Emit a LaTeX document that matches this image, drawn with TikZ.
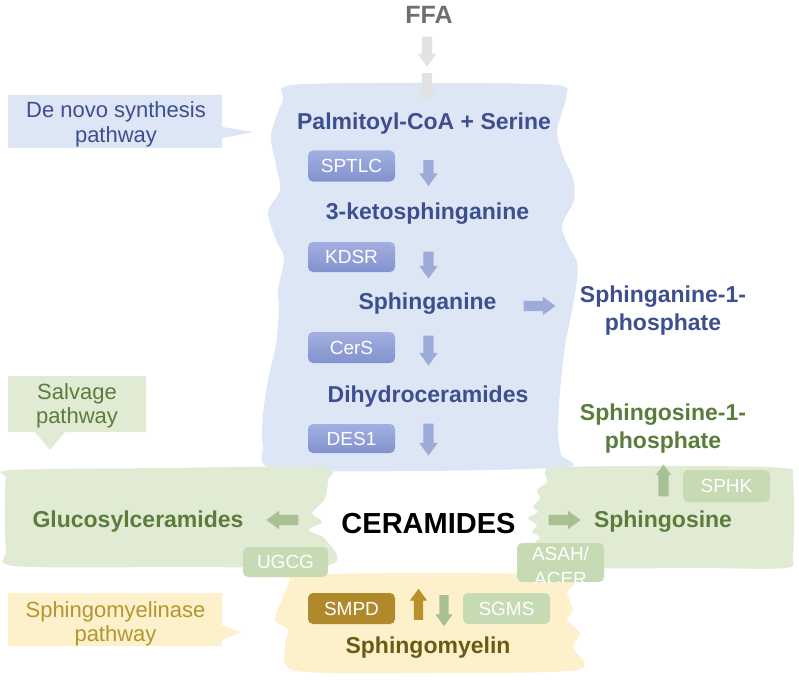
\documentclass[tikz,border=0pt]{standalone}
\usepackage{fontspec}
\setmainfont{Liberation Sans}
\usetikzlibrary{shapes.arrows}
\definecolor{dblue}{HTML}{3D4F8F}
\definecolor{bgblue}{HTML}{DDE6F5}
\definecolor{boxblueT}{HTML}{A2AFE0}
\definecolor{boxblueB}{HTML}{8392CF}
\definecolor{arrblue}{HTML}{9DABDA}
\definecolor{dgreen}{HTML}{5A7D3C}
\definecolor{bggreen}{HTML}{E1EBD4}
\definecolor{boxgreen}{HTML}{C6DAB3}
\definecolor{arrgreen}{HTML}{A9C093}
\definecolor{bgyellow}{HTML}{FDF1CC}
\definecolor{boxgold}{HTML}{B08A2A}
\definecolor{arrgold}{HTML}{B8902C}
\definecolor{dolive}{HTML}{6B5A12}
\definecolor{callgold}{HTML}{B59530}
\definecolor{ffagray}{HTML}{6E6E6E}
\definecolor{arrgray}{HTML}{E2E2E2}
\begin{document}
\begin{tikzpicture}[x=1pt,y=-1pt,
  mol/.style={font=\bfseries\fontsize{23}{28}\selectfont, inner sep=0pt},
  calltxt/.style={font=\fontsize{22}{24.5}\selectfont, align=center, inner sep=0pt},
  enz/.style={rounded corners=5pt, minimum width=87pt, minimum height=31pt, inner sep=0pt, text=white, font=\fontsize{19}{22}\selectfont},
  enzb/.style={enz, top color=boxblueT, bottom color=boxblueB},
  enzg/.style={enz, fill=boxgreen},
  barrow/.style={single arrow, draw=none, inner sep=5pt, single arrow head extend=4pt, single arrow tip angle=72, minimum height=#1},
  wavy/.style={smooth cycle, tension=0.5}
]
\useasboundingbox (0,0) rectangle (799,679);
\fill[white] (0,0) rectangle (799,679);

% ---- background regions ----
\fill[bgblue] plot[wavy] coordinates {(292,85) (430,83) (556,85)
  (566,96) (562,112) (557,133) (564,158) (573,178) (574,200) (562,225) (568,245) (577,262) (577,280) (572,310) (566,340) (562,370) (559,405) (558,435) (561,455) (566,467)
  (420,471) (275,469)
  (263,445) (263,415) (268,380) (276,345) (279,310) (278,290) (284,258) (276,240) (268,212) (280,190) (276,165) (271,135) (283,100)};

\fill[bggreen] plot[wavy] coordinates {(12,470) (170,468) (322,467) (328,480) (324,500) (312,513) (322,522) (309,530) (326,540) (328,565) (170,567) (15,566) (6,550) (5,500) (6,478)};

\fill[bggreen] plot[wavy] coordinates {(545,472) (560,467) (680,466) (783,468) (793,480) (793,555) (785,568) (700,568) (560,568) (535,560) (535,543) (540,537) (532,532) (537,525) (528,518) (538,512) (533,507) (540,498) (537,490) (547,482)};

\fill[bgyellow] plot[wavy] coordinates {(292,575) (430,573) (568,576) (567,593) (573,610) (567,620) (580,633) (573,647) (577,670) (430,673) (297,671) (285,647) (288,630) (275,620) (283,597) (290,580)};

% ---- callouts ----
\fill[bgblue] (8,95) -- (222,95) -- (222,127) -- (253,132) -- (222,138) -- (222,148) -- (8,148) -- cycle;
\node[calltxt, text=dblue] (denovo) at (116,124.5) {De novo synthesis\\pathway};

\fill[bggreen] (8,376) -- (146,376) -- (146,432) -- (65,432) -- (50,450) -- (35,432) -- (8,432) -- cycle;
\node[calltxt, text=dgreen] (salvage) at (77,406) {Salvage\\pathway};

\fill[bgyellow] (8,593) -- (222,593) -- (222,625) -- (241,632) -- (222,640) -- (222,646) -- (8,646) -- cycle;
\node[calltxt, text=callgold] (smase) at (115.5,624) {Sphingomyelinase\\pathway};

% ---- FFA ----
\node[font=\bfseries\fontsize{25}{28}\selectfont, text=ffagray, inner sep=0pt, anchor=base] (ffa) at (429,24) {FFA};
\node[barrow=30, fill=arrgray, rotate=-90] (f1) at (427,48) {};
\node[barrow=29, fill=arrgray, rotate=-90] (f2) at (427,84) {};

% ---- de novo pathway ----
\node[mol, text=dblue, anchor=base] (palm) at (424,130) {Palmitoyl-CoA + Serine};
\node[enzb] (sptlc) at (351.5,166) {SPTLC};
\node[barrow=26, fill=arrblue, rotate=-90] (a1) at (428.5,169.5) {};
\node[mol, text=dblue, anchor=base] (keto) at (427.5,219) {3-ketosphinganine};
\node[enzb, minimum height=30pt] (kdsr) at (351.5,257) {KDSR};
\node[barrow=27, fill=arrblue, rotate=-90] (a2) at (428.5,261.5) {};
\node[mol, text=dblue, anchor=base] (sphinganine) at (427.5,309) {Sphinganine};
\node[barrow=32, fill=arrblue] (a3) at (536,306) {};
\node[mol, text=dblue, align=center] (sa1p) at (663,311) {Sphinganine-1-\\phosphate};
\node[enzb] (cers) at (351.5,347.5) {CerS};
\node[barrow=30, fill=arrblue, rotate=-90] (a4) at (428.5,347) {};
\node[mol, text=dblue, anchor=base] (dihydro) at (428,402) {Dihydroceramides};
\node[enzb, minimum height=29pt] (des1) at (351.5,438.5) {DES1};
\node[barrow=32, fill=arrblue, rotate=-90] (a5) at (428.5,436) {};
\node[mol, text=dgreen, align=center] (so1p) at (663,429) {Sphingosine-1-\\phosphate};

% ---- ceramide level ----
\node[mol, text=dgreen, anchor=base] (gluc) at (138,527) {Glucosylceramides};
\node[barrow=32, fill=arrgreen, rotate=180] (a6) at (286,520) {};
\node[enzg, minimum width=85pt, minimum height=30pt] (ugcg) at (285.5,562) {UGCG};
\node[font=\bfseries\fontsize{29}{32}\selectfont, text=black, inner sep=0pt, anchor=base] (cer) at (428.5,533) {CERAMIDES};
\node[barrow=32, fill=arrgreen] (a7) at (561,520) {};
\node[mol, text=dgreen, anchor=base] (sphingosine) at (663,527) {Sphingosine};
\node[barrow=32, fill=arrgreen, rotate=90, inner sep=5pt, single arrow head extend=2.5pt] (a8) at (663.5,484) {};
\node[enzg, minimum height=32pt] (sphk) at (726.5,486) {SPHK};
\node[enzg, minimum height=39pt] (asah) at (560.5,562.5) {};
\begin{scope}
  \clip (asah.south west) rectangle (asah.north east);
  \node[text=white, font=\fontsize{19}{25}\selectfont, align=center, inner sep=0pt] (asahtxt) at (560.5,566) {ASAH/\\ACER};
\end{scope}

% ---- sphingomyelin ----
\node[enz, fill=boxgold] (smpd) at (351.5,608.5) {SMPD};
\node[barrow=31, fill=arrgold, rotate=90, inner sep=4.5pt] (a9) at (418.5,607.5) {};
\node[barrow=31, fill=arrgreen, rotate=-90, inner sep=4.5pt] (a10) at (444,607.5) {};
\node[enzg] (sgms) at (506.5,608.5) {SGMS};
\node[mol, text=dolive, anchor=base] (sm) at (428,653) {Sphingomyelin};
\end{tikzpicture}
\end{document}
